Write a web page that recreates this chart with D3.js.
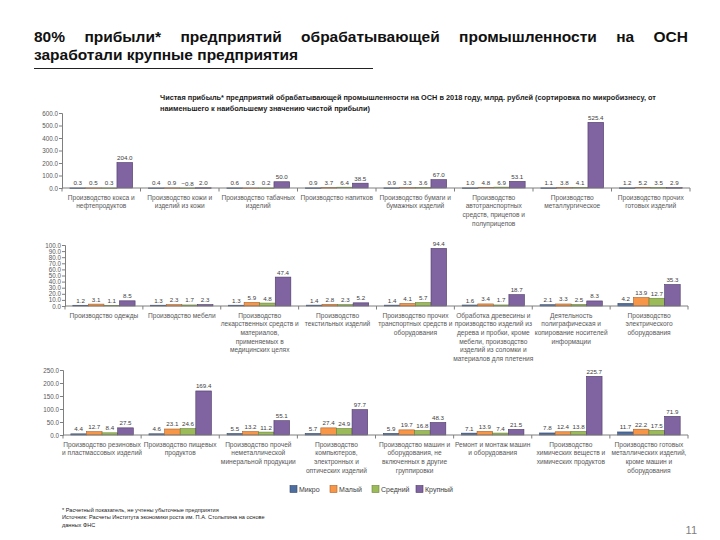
<!DOCTYPE html>
<html><head><meta charset="utf-8">
<script src="https://cdn.jsdelivr.net/npm/d3@7/dist/d3.min.js"></script>
<style>
html,body{margin:0;padding:0;background:#fff;}
svg{display:block;}
</style></head>
<body>
<svg id="c" width="720" height="540"></svg>
<script>
const series = ["Микро", "Малый", "Средний", "Крупный"];
const colors = ["#4F6EA0", "#F79646", "#9BBB59", "#8064A2"];
const strokes = ["#34486b", "#a8602a", "#6a8239", "#4d3a66"];

const categories1 = [
  "Производство кокса и\nнефтепродуктов",
  "Производство кожи и\nизделий из кожи",
  "Производство табачных\nизделий",
  "Производство напитков",
  "Производство бумаги и\nбумажных изделий",
  "Производство\nавтотранспортных\nсредств, прицепов и\nполуприцепов",
  "Производство\nметаллургическое",
  "Производство прочих\nготовых изделий"
];
const micro1 = [0.3, 0.4, 0.6, 0.9, 0.9, 1.0, 1.1, 1.2];
const small1 = [0.5, 0.9, 0.3, 3.7, 3.3, 4.8, 3.8, 5.2];
const medium1 = [0.3, -0.8, 0.2, 6.4, 3.6, 6.9, 4.1, 3.5];
const large1 = [204.0, 2.0, 50.0, 38.5, 67.0, 53.1, 525.4, 2.9];
const ticks1 = [0, 100, 200, 300, 400, 500, 600];

const categories2 = [
  "Производство одежды",
  "Производство мебели",
  "Производство\nлекарственных средств и\nматериалов,\nприменяемых в\nмедицинских целях",
  "Производство\nтекстильных изделий",
  "Производство прочих\nтранспортных средств и\nоборудования",
  "Обработка древесины и\nпроизводство изделий из\nдерева и пробки, кроме\nмебели, производство\nизделий из соломки и\nматериалов для плетения",
  "Деятельность\nполиграфическая и\nкопирование носителей\nинформации",
  "Производство\nэлектрического\nоборудования"
];
const micro2 = [1.2, 1.3, 1.3, 1.4, 1.4, 1.6, 2.1, 4.2];
const small2 = [3.1, 2.3, 5.9, 2.8, 4.1, 3.4, 3.3, 13.9];
const medium2 = [1.1, 1.7, 4.8, 2.3, 5.7, 1.7, 2.5, 12.7];
const large2 = [8.5, 2.3, 47.4, 5.2, 94.4, 18.7, 8.3, 35.3];
const ticks2 = [0, 10, 20, 30, 40, 50, 60, 70, 80, 90, 100];

const categories3 = [
  "Производство резиновых\nи пластмассовых изделий",
  "Производство пищевых\nпродуктов",
  "Производство прочей\nнеметаллической\nминеральной продукции",
  "Производство\nкомпьютеров,\nэлектронных и\nоптических изделий",
  "Производство машин и\nоборудования, не\nвключенных в другие\nгруппировки",
  "Ремонт и монтаж машин\nи оборудования",
  "Производство\nхимических веществ и\nхимических продуктов",
  "Производство готовых\nметаллических изделий,\nкроме машин и\nоборудования"
];
const micro3 = [4.4, 4.6, 5.5, 5.7, 5.9, 7.1, 7.8, 11.7];
const small3 = [12.7, 23.1, 13.2, 27.4, 19.7, 13.9, 12.4, 22.2];
const medium3 = [8.4, 24.6, 11.2, 24.9, 16.8, 7.4, 13.8, 17.5];
const large3 = [27.5, 169.4, 55.1, 97.7, 48.3, 21.5, 225.7, 71.9];
const ticks3 = [0, 50, 100, 150, 200, 250];

const svg = d3.select("#c");
const NARROW = "'Liberation Sans Narrow','Liberation Sans',Arial,sans-serif";
const SANS = "'Liberation Sans',Arial,sans-serif";

// Title line 1, justified by word spacing
(function () {
  const words = "80% прибыли* предприятий обрабатывающей промышленности на ОСН".split(" ");
  const left = 34, right = 688;
  const nodes = words.map(w => svg.append("text").attr("y", 42)
    .attr("font-family", SANS).attr("font-weight", "bold").attr("font-size", 15.5)
    .attr("fill", "#111").text(w));
  const widths = nodes.map(n => n.node().getComputedTextLength());
  const gap = (right - left - d3.sum(widths)) / (words.length - 1);
  let cx = left;
  nodes.forEach((n, i) => { n.attr("x", cx); cx += widths[i] + gap; });
})();
svg.append("text").attr("x", 34).attr("y", 60)
  .attr("font-family", SANS).attr("font-weight", "bold").attr("font-size", 15.5)
  .attr("fill", "#111")
  .text("заработали крупные предприятия");
svg.append("line").attr("x1", 34).attr("x2", 373).attr("y1", 68.5).attr("y2", 68.5)
  .attr("stroke", "#222").attr("stroke-width", 1);

// Chart subtitle (font size fitted to the reference width)
(function () {
  const s1 = svg.append("text").attr("x", 160).attr("y", 100)
    .attr("font-family", NARROW).attr("font-weight", "bold").attr("font-size", 8.6)
    .attr("fill", "#1a1a1a")
    .text("Чистая прибыль* предприятий обрабатывающей промышленности на ОСН в 2018 году, млрд. рублей (сортировка по микробизнесу, от");
  const w = s1.node().getComputedTextLength();
  const fs = Math.min(9, 8.6 * 496 / w);
  s1.attr("font-size", fs);
  svg.append("text").attr("x", 160).attr("y", 111)
    .attr("font-family", NARROW).attr("font-weight", "bold").attr("font-size", fs)
    .attr("fill", "#1a1a1a")
    .text("наименьшего к наибольшему значению чистой прибыли)");
})();

function panel(cfg) {
  const {cats, data, ticks, x0, x1, yZero, yTop} = cfg;
  const g = svg.append("g");
  const x = d3.scaleBand().domain(d3.range(cats.length)).range([x0, x1]).padding(0);
  const inner = d3.scaleBand().domain(d3.range(series.length)).range([0, x.bandwidth()])
    .paddingInner(0).paddingOuter(0.5);
  const y = d3.scaleLinear().domain([0, d3.max(ticks)]).range([yZero, yTop]);

  const ya = d3.axisLeft(y).tickValues(ticks).tickSize(3).tickFormat(d3.format(".1f"));
  const yg = g.append("g").attr("transform", `translate(${x0},0)`).call(ya);
  yg.select(".domain").attr("stroke", "#7f7f7f");
  yg.selectAll(".tick line").attr("stroke", "#7f7f7f");
  yg.selectAll(".tick text").attr("font-family", SANS).attr("font-size", 6.3)
    .attr("fill", "#595959").attr("x", -4);

  cats.forEach((c, i) => {
    series.forEach((s, j) => {
      const v = data[j][i];
      const bx = x(i) + inner(j);
      const ya0 = y(Math.max(0, v)), ya1 = y(Math.min(0, v));
      g.append("rect").attr("x", bx).attr("y", ya0)
        .attr("width", inner.bandwidth()).attr("height", Math.max(0.6, ya1 - ya0))
        .attr("fill", colors[j]).attr("stroke", strokes[j]).attr("stroke-width", 0.6);
      g.append("text").attr("x", bx + inner.bandwidth() / 2)
        .attr("y", y(Math.max(0, v)) - 2.5)
        .attr("text-anchor", "middle").attr("font-family", SANS).attr("font-size", 6.2)
        .attr("fill", "#404040").text(d3.format(".1f")(v));
    });
  });

  g.append("line").attr("x1", x0).attr("x2", x1).attr("y1", yZero).attr("y2", yZero)
    .attr("stroke", "#7f7f7f").attr("stroke-width", 1);
  d3.range(cats.length + 1).forEach(k => {
    const tx = x0 + k * x.step();
    g.append("line").attr("x1", tx).attr("x2", tx).attr("y1", yZero).attr("y2", yZero + 3.5)
      .attr("stroke", "#7f7f7f").attr("stroke-width", 1);
  });

  cats.forEach((c, i) => {
    const t = g.append("text").attr("text-anchor", "middle")
      .attr("font-family", NARROW).attr("font-size", 6.6).attr("fill", "#595959");
    c.split("\n").forEach((ln, k) => {
      t.append("tspan").attr("x", x(i) + x.bandwidth() / 2)
        .attr("y", yZero + 11.5 + k * 8.7).text(ln);
    });
  });
}

panel({cats: categories1, data: [micro1, small1, medium1, large1], ticks: ticks1,
  x0: 62, x1: 690, yZero: 188, yTop: 113});
panel({cats: categories2, data: [micro2, small2, medium2, large2], ticks: ticks2,
  x0: 65, x1: 688, yZero: 306, yTop: 245});
panel({cats: categories3, data: [micro3, small3, medium3, large3], ticks: ticks3,
  x0: 63, x1: 688, yZero: 435, yTop: 370});

const legX = [290, 330, 372, 416];
series.forEach((s, j) => {
  svg.append("rect").attr("x", legX[j]).attr("y", 485.5).attr("width", 7).attr("height", 7)
    .attr("fill", colors[j]).attr("stroke", strokes[j]).attr("stroke-width", 0.6);
  svg.append("text").attr("x", legX[j] + 9).attr("y", 491.8)
    .attr("font-family", NARROW).attr("font-size", 7).attr("fill", "#404040").text(s);
});

const foot = ["* Расчетный показатель, не учтены убыточные предприятия",
  "Источник: Расчеты Института экономики роста им. П.А. Столыпина на основе",
  "данных ФНС"];
foot.forEach((f, k) => {
  svg.append("text").attr("x", 62).attr("y", 512 + k * 7.3)
    .attr("font-family", SANS).attr("font-size", 5.6).attr("fill", "#222").text(f);
});

svg.append("text").attr("x", 697).attr("y", 534).attr("text-anchor", "end")
  .attr("font-family", SANS).attr("font-size", 11).attr("fill", "#7f7f7f").text("11");
</script>
</body></html>
